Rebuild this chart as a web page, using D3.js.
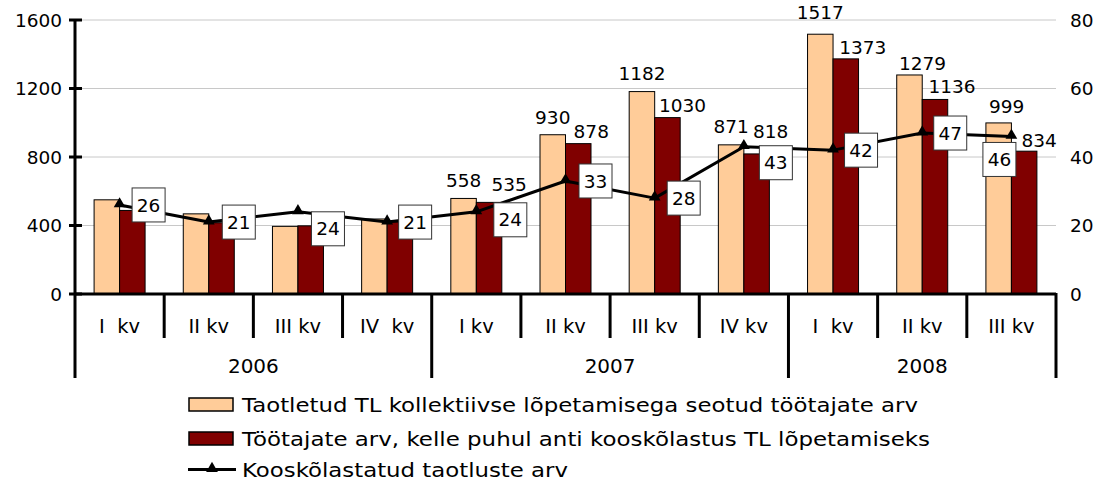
<!DOCTYPE html>
<html>
<head>
<meta charset="utf-8">
<script src="https://cdn.jsdelivr.net/npm/d3@7/dist/d3.min.js"></script>
<style>
  html, body { margin: 0; padding: 0; background: #fff; }
  svg { display: block; font-family: "DejaVu Sans", Verdana, sans-serif; }
  text { white-space: pre; }
</style>
</head>
<body>
<svg id="chart" width="1095" height="481"></svg>
<script>
// ---- data ----
const years = ["2006", "2007", "2008"];
const quarterLabels = ["I  kv", "II kv", "III kv", "IV  kv", "I kv", "II kv", "III kv", "IV kv", "I  kv", "II kv", "III kv"];
const quarterYear = ["2006", "2006", "2006", "2006", "2007", "2007", "2007", "2007", "2008", "2008", "2008"];
const requested = [550, 468, 395, 438, 558, 930, 1182, 871, 1517, 1279, 999];
const approved = [488, 416, 398, 421, 535, 878, 1030, 818, 1373, 1136, 834];
const agreedApps = [26, 21, 24, 21, 24, 33, 28, 43, 42, 47, 46];
const showBarLabel = [false, false, false, false, true, true, true, true, true, true, true];
const leftTicks = [0, 400, 800, 1200, 1600];
const rightTicks = [0, 20, 40, 60, 80];
const seriesNames = [
  "Taotletud TL kollektiivse lõpetamisega seotud töötajate arv",
  "Töötajate arv, kelle puhul anti kooskõlastus TL lõpetamiseks",
  "Kooskõlastatud taotluste arv"
];

// ---- layout (label nudges, not data) ----
const lineLabelDx = [29, 30, 30, 28, 34, 30, 29, 32, 28, 28, -12];
const lineLabelDy = [0, 0, 17, 0, 8, 0, 0, 16, 0, 0, 23];
const lightLabelDx = [0, 0, 0, 0, 0, 0, 0, 0, 0, 13, 8];
const lightLabelGap = [11, 11, 11, 11, 11, 11, 12, 12, 15, 5, 10];
const darkLabelDx = [15, 15, 15, 15, 20, 13, 15, 14, 17, 17, 15];
const darkLabelGap = [6, 6, 6, 6, 11, 6, 6, 16, 5, 6, 4];

const colLight = "#FFCC99", colDark = "#800000";
const svg = d3.select("#chart");
const X0 = 75, X1 = 1056, Y0 = 294, YT = 20;
const idx = d3.range(quarterLabels.length);

const x = d3.scaleBand().domain(idx).range([X0, X1]).paddingInner(0).paddingOuter(0);
const yL = d3.scaleLinear().domain([0, 1600]).range([Y0, YT]);
const yR = d3.scaleLinear().domain([0, 80]).range([Y0, YT]);
const bw = 25.5;
const cx = i => x(i) + x.bandwidth() / 2;

// gridlines
svg.append("g").selectAll("line").data(leftTicks.filter(d => d > 0)).join("line")
  .attr("x1", X0).attr("x2", X1).attr("y1", d => yL(d)).attr("y2", d => yL(d))
  .attr("stroke", "#c8c8c8").attr("stroke-width", 1);

// bars
const gb = svg.append("g");
gb.selectAll("rect.l").data(idx).join("rect").attr("class", "l")
  .attr("x", i => cx(i) - bw).attr("width", bw)
  .attr("y", i => yL(requested[i])).attr("height", i => Y0 - yL(requested[i]))
  .attr("fill", colLight).attr("stroke", "#000").attr("stroke-width", 1);
gb.selectAll("rect.d").data(idx).join("rect").attr("class", "d")
  .attr("x", i => cx(i)).attr("width", bw)
  .attr("y", i => yL(approved[i])).attr("height", i => Y0 - yL(approved[i]))
  .attr("fill", colDark).attr("stroke", "#000").attr("stroke-width", 1);

// bar value labels
const gl = svg.append("g").attr("font-size", 18.5).attr("fill", "#000").attr("text-anchor", "middle");
gl.selectAll("text.l").data(idx.filter(i => showBarLabel[i])).join("text").attr("class", "l")
  .attr("x", i => cx(i) - bw / 2 + lightLabelDx[i]).attr("y", i => yL(requested[i]) - lightLabelGap[i])
  .text(i => requested[i]);
gl.selectAll("text.d").data(idx.filter(i => showBarLabel[i])).join("text").attr("class", "d")
  .attr("x", i => cx(i) + bw / 2 + darkLabelDx[i]).attr("y", i => yL(approved[i]) - darkLabelGap[i])
  .text(i => approved[i]);

// axes lines
const ax = svg.append("g").attr("stroke", "#000").attr("stroke-width", 3);
ax.append("line").attr("x1", X0).attr("x2", X1).attr("y1", Y0).attr("y2", Y0);
ax.append("line").attr("x1", X0).attr("x2", X0).attr("y1", YT).attr("y2", 378);
ax.selectAll("line.t").data(leftTicks).join("line").attr("class", "t")
  .attr("x1", X0 - 6).attr("x2", X0 + 7).attr("y1", d => yL(d)).attr("y2", d => yL(d));
// category dividers
ax.selectAll("line.q").data(d3.range(1, quarterLabels.length + 1)).join("line").attr("class", "q")
  .attr("x1", i => X0 + i * x.bandwidth()).attr("x2", i => X0 + i * x.bandwidth())
  .attr("y1", Y0 - 1).attr("y2", i => (i === quarterLabels.length || quarterYear[i] !== quarterYear[i - 1]) ? 378 : 338);

// tick labels
const gt = svg.append("g").attr("fill", "#000");
gt.selectAll("text.l").data(leftTicks).join("text").attr("class", "l").attr("font-size", 18.5)
  .attr("x", 62).attr("y", d => yL(d)).attr("dy", "0.36em").attr("text-anchor", "end").text(d => d);
gt.selectAll("text.r").data(rightTicks).join("text").attr("class", "r").attr("font-size", 18.5)
  .attr("x", 1070).attr("y", d => yR(d)).attr("dy", "0.36em").attr("text-anchor", "start").text(d => d);
gt.selectAll("text.q").data(idx).join("text").attr("class", "q").attr("font-size", 19.5)
  .attr("x", i => cx(i)).attr("y", 333).attr("text-anchor", "middle").text(i => quarterLabels[i]);
gt.selectAll("text.y").data(years).join("text").attr("class", "y").attr("font-size", 20)
  .attr("x", yr => {
    const ii = idx.filter(i => quarterYear[i] === yr);
    return (x(ii[0]) + x(ii[ii.length - 1]) + x.bandwidth()) / 2;
  })
  .attr("y", 373).attr("text-anchor", "middle").text(yr => yr);

// line series
const line = d3.line().x(i => cx(i)).y(i => yR(agreedApps[i]));
svg.append("path").datum(idx).attr("d", line).attr("fill", "none")
  .attr("stroke", "#000").attr("stroke-width", 3).attr("stroke-linejoin", "round");
const tri = d3.symbol().type(d3.symbolTriangle).size(60);
svg.append("g").selectAll("path").data(idx).join("path")
  .attr("d", tri).attr("transform", i => `translate(${cx(i)},${yR(agreedApps[i]) - 1})`).attr("fill", "#000");

// line labels in boxes
const gbx = svg.append("g");
const boxW = 33, boxH = 34;
const lb = gbx.selectAll("g").data(idx).join("g")
  .attr("transform", i => `translate(${cx(i) + lineLabelDx[i]},${yR(agreedApps[i]) + lineLabelDy[i]})`);
lb.append("rect").attr("x", -boxW / 2).attr("y", -boxH / 2).attr("width", boxW).attr("height", boxH)
  .attr("fill", "#fff").attr("stroke", "#333").attr("stroke-width", 1);
lb.append("text").attr("text-anchor", "middle").attr("dy", "0.36em").attr("font-size", 18.5)
  .text(i => agreedApps[i]);

// legend
const lg = svg.append("g");
const legY = [404.5, 438.5, 469.5];
const legLen = [676, 688, 326];
lg.append("rect").attr("x", 189).attr("y", legY[0] - 6.5).attr("width", 44).attr("height", 13)
  .attr("fill", colLight).attr("stroke", "#000").attr("stroke-width", 1.5);
lg.append("rect").attr("x", 189).attr("y", legY[1] - 6.5).attr("width", 44).attr("height", 13)
  .attr("fill", colDark).attr("stroke", "#000").attr("stroke-width", 1.5);
lg.append("line").attr("x1", 188).attr("x2", 236).attr("y1", legY[2]).attr("y2", legY[2])
  .attr("stroke", "#000").attr("stroke-width", 3);
lg.append("path").attr("d", tri).attr("transform", `translate(212,${legY[2] - 1})`).attr("fill", "#000");
lg.selectAll("text").data(seriesNames).join("text")
  .attr("x", 242).attr("y", (d, i) => legY[i] + 7.5).attr("font-size", 20)
  .attr("textLength", (d, i) => legLen[i]).attr("lengthAdjust", "spacingAndGlyphs")
  .text(d => d);
</script>
</body>
</html>
